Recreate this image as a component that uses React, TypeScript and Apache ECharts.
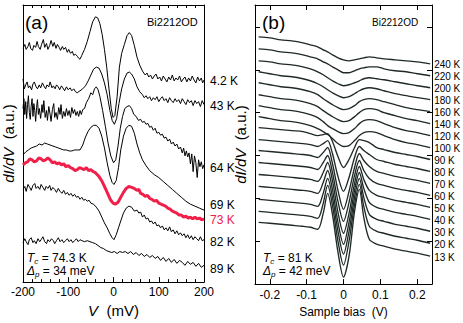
import React, { useEffect, useRef } from 'react';
import * as echarts from 'echarts';

const FONT = "'Liberation Sans', Arial, Helvetica, sans-serif";

// ---------- Panel (a): dI/dV (a.u.) vs V (mV), offset spectra ----------
const a4_2K: number[][] = [[-200,237],[-196,241],[-193,236],[-189,239],[-186,243],[-183,237],[-179,235],[-176,240],[-172,238],[-169,244],[-166,239],[-162,236],[-159,241],[-155,246],[-152,238],[-148,242],[-145,236],[-141,240],[-138,245],[-134,239],[-131,243],[-127,237],[-124,241],[-120,238],[-117,235],[-113,239],[-110,236],[-106,238],[-102,233],[-99,236],[-95,232],[-91,234],[-88,230],[-84,231],[-80,229],[-77,227],[-74,226],[-70,230],[-64,236],[-58,244],[-52,254],[-46,264],[-40,269],[-35,268],[-30,262],[-25,251],[-20,236],[-15,218],[-10,196],[-5,176],[-1,167],[3,169],[8,188],[13,218],[18,232],[24,241],[30,250],[35,253],[40,250],[46,240],[52,228],[58,220],[64,214],[70,210],[74,212],[78,208],[82,210],[86,206],[90,209],[94,211],[98,206],[102,208],[106,204],[110,209],[114,206],[118,203],[122,208],[126,205],[130,210],[134,204],[138,207],[142,205],[146,209],[150,203],[154,206],[158,208],[162,203],[166,207],[170,204],[174,209],[178,205],[182,202],[186,208],[190,204],[194,207],[197,202],[200,205]];
const a43K: number[][] = [[-200,206],[-197,196],[-194,200],[-191,203],[-188,197],[-185,199],[-181,195],[-178,201],[-175,203],[-171,198],[-168,196],[-164,200],[-161,197],[-157,202],[-154,199],[-150,196],[-147,200],[-143,198],[-140,203],[-136,197],[-133,199],[-129,196],[-126,200],[-122,198],[-119,195],[-115,199],[-112,197],[-108,194],[-104,198],[-100,195],[-96,197],[-92,194],[-88,196],[-84,193],[-80,192],[-74,194],[-68,196],[-62,199],[-56,204],[-50,210],[-44,216],[-38,218],[-32,217],[-26,211],[-20,202],[-14,190],[-8,174],[-3,164],[2,160],[7,166],[12,181],[18,196],[24,206],[30,212],[35,213],[40,211],[46,206],[52,198],[58,193],[64,190],[68,187],[72,189],[76,186],[80,188],[84,184],[88,187],[92,185],[96,188],[100,183],[104,186],[108,188],[112,184],[116,186],[120,182],[124,187],[128,184],[132,182],[136,186],[140,183],[144,185],[148,181],[152,186],[156,183],[160,180],[164,185],[168,182],[172,184],[176,179],[180,184],[184,181],[188,183],[192,178],[196,184],[200,180]];
const a64K: number[][] = [[-200,176],[-198,186],[-196,170],[-194,183],[-192,166],[-190,180],[-188,189],[-186,172],[-184,165],[-182,178],[-180,186],[-178,168],[-176,181],[-174,174],[-172,163],[-170,177],[-168,185],[-166,170],[-164,176],[-161,166],[-158,180],[-156,172],[-154,184],[-151,167],[-148,174],[-146,164],[-143,178],[-140,170],[-138,163],[-135,175],[-132,181],[-130,167],[-127,172],[-124,165],[-121,177],[-118,170],[-116,180],[-113,166],[-110,173],[-107,168],[-104,176],[-101,169],[-98,174],[-95,167],[-92,177],[-89,171],[-86,175],[-83,169],[-80,173],[-77,168],[-74,174],[-71,170],[-68,175],[-64,176],[-60,182],[-55,186],[-50,192],[-46,190],[-42,196],[-38,198],[-34,195],[-30,188],[-24,174],[-18,158],[-12,141],[-6,128],[0,121],[5,124],[10,138],[15,156],[20,168],[25,176],[30,178],[35,179],[40,176],[45,170],[50,168],[55,164],[60,165],[64,162],[68,163],[72,160],[76,161],[80,157],[84,158],[88,154],[92,156],[96,151],[100,152],[104,149],[108,150],[112,146],[116,147],[120,143],[124,145],[128,140],[132,142],[136,138],[140,140],[144,135],[148,137],[152,131],[155,136],[158,128],[161,133],[164,127],[167,131],[170,120],[173,130],[176,112],[179,128],[182,121],[185,106],[188,124],[191,117],[194,122],[197,115],[200,119]];
const a69K: number[][] = [[-200,129],[-194,132],[-188,134],[-182,136],[-176,137],[-170,138],[-164,140],[-158,139],[-152,141],[-146,140],[-140,139],[-134,138],[-128,137],[-122,136],[-116,135],[-110,134],[-104,134],[-98,133],[-92,133],[-86,134],[-80,134],[-74,134],[-68,139],[-62,147],[-56,153],[-50,157],[-44,159],[-38,159],[-32,156],[-26,148],[-20,136],[-14,121],[-8,108],[-3,101],[1,99],[6,103],[11,116],[16,134],[22,148],[28,156],[34,159],[40,158],[46,151],[52,140],[58,131],[64,124],[72,118],[80,113],[90,109],[100,106],[110,102],[120,98],[130,94],[140,90],[150,86],[160,82],[170,79],[180,77],[190,75],[200,73]];
const a73K: number[][] = [[-200,119],[-195,121],[-190,122],[-185,125],[-180,124],[-175,122],[-170,123],[-165,126],[-160,125],[-155,123],[-150,124],[-145,126],[-140,124],[-135,121],[-130,122],[-125,120],[-120,121],[-115,119],[-110,120],[-105,117],[-100,118],[-95,116],[-90,115],[-85,113],[-80,114],[-75,116],[-70,115],[-65,114],[-60,116],[-55,113],[-50,114],[-45,112],[-40,111],[-32,107],[-25,102],[-18,95],[-12,89],[-6,83],[-1,80],[4,79],[10,81],[16,86],[22,91],[28,95],[34,97],[40,96],[46,95],[52,93],[56,94],[60,90],[65,89],[70,87],[75,88],[80,85],[85,84],[90,82],[95,83],[100,80],[105,79],[110,78],[115,77],[120,75],[125,74],[130,72],[135,71],[140,70],[145,68],[150,68],[155,66],[160,67],[165,65],[170,66],[175,64],[180,66],[185,64],[190,65],[195,63],[200,64]];
const a82K: number[][] = [[-200,94],[-196,97],[-193,92],[-189,99],[-185,96],[-182,93],[-178,98],[-174,100],[-171,95],[-167,97],[-163,94],[-160,99],[-156,96],[-152,93],[-149,97],[-145,95],[-141,98],[-138,93],[-134,96],[-130,94],[-126,91],[-122,95],[-118,92],[-114,90],[-110,93],[-106,89],[-102,91],[-98,88],[-94,90],[-90,87],[-86,89],[-82,86],[-78,87],[-74,84],[-70,86],[-66,83],[-62,84],[-58,82],[-54,83],[-50,80],[-44,79],[-38,76],[-32,72],[-26,66],[-20,60],[-14,55],[-8,49],[-3,45],[1,43],[6,48],[11,55],[16,62],[22,70],[28,75],[34,77],[40,76],[46,72],[52,73],[56,70],[60,71],[64,66],[68,68],[72,64],[76,65],[80,61],[84,62],[88,59],[92,61],[96,57],[100,58],[104,55],[108,57],[112,53],[116,55],[120,52],[124,56],[128,51],[132,53],[136,49],[140,52],[144,48],[148,50],[152,47],[156,49],[160,45],[164,48],[168,44],[172,47],[176,43],[180,46],[184,44],[188,42],[192,46],[196,42],[200,43]];
const a89K: number[][] = [[-200,40],[-196,44],[-193,41],[-189,38],[-186,43],[-182,45],[-178,40],[-175,42],[-171,39],[-167,44],[-163,41],[-160,43],[-156,46],[-152,41],[-148,39],[-145,43],[-141,41],[-137,44],[-133,42],[-130,39],[-126,42],[-122,45],[-118,41],[-114,43],[-110,40],[-106,42],[-102,44],[-98,41],[-94,43],[-90,40],[-86,42],[-82,44],[-78,41],[-74,43],[-70,42],[-64,41],[-58,42],[-52,41],[-46,40],[-40,39],[-34,37],[-28,35],[-22,34],[-16,32],[-10,31],[-4,30],[2,31],[8,29],[14,31],[20,30],[26,31],[32,29],[38,31],[44,28],[50,30],[56,27],[62,29],[68,26],[74,28],[80,25],[86,27],[92,24],[98,26],[104,22],[110,25],[116,21],[122,24],[128,20],[134,23],[140,19],[146,22],[152,20],[158,17],[164,21],[170,18],[176,20],[182,16],[188,19],[194,15],[200,17]];

const seriesA = [
  { name: '4.2 K', data: a4_2K, color: '#000', width: 1, dy: 1 },
  { name: '43 K', data: a43K, color: '#000', width: 1, dy: 1 },
  { name: '64 K', data: a64K, color: '#000', width: 1, dy: 3 },
  { name: '69 K', data: a69K, color: '#000', width: 1, dy: -5 },
  { name: '73 K', data: a73K, color: '#f0204a', width: 3, dy: 1 },
  { name: '82 K', data: a82K, color: '#000', width: 1, dy: 2 },
  { name: '89 K', data: a89K, color: '#000', width: 1, dy: 4 },
];

// ---------- Panel (b): dI/dV (a.u.) vs sample bias (V) ----------
const biasGrid = [-0.23,-0.2,-0.17,-0.14,-0.11,-0.09,-0.07,-0.055,-0.043,-0.03,-0.015,0,0.015,0.03,0.043,0.055,0.07,0.09,0.11,0.14,0.17,0.2,0.235];
const b240K = [248,247,245,244,242,240,238,235,233,230,227,225,224,225,226,227,228,227,226,225,224,223,221];
const b220K = [236,235,233,232,230,228,226,223,221,218,215,212,212,214,216,217,218,218,216,214,213,211,209];
const b200K = [224,223,221,220,218,216,213,210,207,204,201,199,200,202,204,206,207,206,205,203,201,199,197];
const b180K = [213,211,209,208,206,204,201,198,195,192,189,187,188,191,194,196,197,196,194,191,189,187,185];
const b160K = [202,200,198,197,195,193,190,186,183,180,177,175,176,179,183,185,186,185,183,180,177,175,173];
const b140K = [190,188,186,185,183,181,178,174,171,168,165,163,164,168,172,175,176,175,172,169,166,164,161];
const b120K = [179,177,175,174,172,170,167,163,159,156,153,151,152,156,161,164,165,164,161,157,154,152,149];
const b100K = [168,166,164,163,161,159,156,153,150,146,141,138,139,144,149,152,153,152,149,145,142,140,137];
const b90K = [157,156,155,154,153,151,149,150,151,143,128,117,125,137,145,144,142,137,135,132,130,128,125];
const b80K = [145,144,143,142,141,140,138,141,144,131,108,93,107,127,138,134,130,125,123,120,118,116,113];
const b70K = [134,133,132,131,130,129,127,132,137,121,94,75,93,117,131,124,118,113,111,108,106,104,101];
const b60K = [122,121,120,119,118,117,115,122,129,112,83,63,82,109,124,114,106,101,99,96,94,92,89];
const b50K = [110,109,108,107,106,105,103,112,122,104,72,51,71,101,118,105,94,89,87,84,82,80,77];
const b40K = [98,97,96,95,94,93,91,102,114,95,62,40,62,94,112,96,82,77,75,72,70,68,65];
const b30K = [85,84,83,82,81,80,78,91,106,87,53,30,53,87,106,87,70,65,63,60,58,56,53];
const b20K = [73,72,71,70,69,68,66,81,99,79,43,19,43,80,100,78,58,53,51,48,46,44,41];
const b13K = [62,61,60,59,58,57,55,71,91,70,32,7,28,73,95,67,45,40,38,35,33,31,28];

const tempsB = ['240 K','220 K','200 K','180 K','160 K','140 K','120 K','100 K','90 K','80 K','70 K','60 K','50 K','40 K','30 K','20 K','13 K'];
const curvesB = [b240K,b220K,b200K,b180K,b160K,b140K,b120K,b100K,b90K,b80K,b70K,b60K,b50K,b40K,b30K,b20K,b13K];

const ticksA = [-200, -100, 0, 100, 200];

function buildOption() {
  const black = '#000';
  const axisLine = { show: true, onZero: false, lineStyle: { color: black, width: 1 } };
  const tickIn = { show: true, inside: true, length: 5, lineStyle: { color: black, width: 1 } };
  const minorIn = { show: true, splitNumber: 5, length: 3, lineStyle: { color: black, width: 1 } };
  const txt = { color: black, fontFamily: FONT };
  const yName = {
    name: '{i|dI/dV}  (a.u.)',
    nameLocation: 'middle',
    nameRotate: 90,
    nameGap: 7,
    nameTextStyle: { ...txt, fontSize: 15, rich: { i: { fontStyle: 'italic', fontSize: 15, fontFamily: FONT, color: black } } },
  };

  const series: any[] = [];
  seriesA.forEach((s) => {
    series.push({
      type: 'line', xAxisIndex: 0, yAxisIndex: 0, data: s.data, showSymbol: false, silent: true,
      lineStyle: { color: s.color, width: s.width }, itemStyle: { color: s.color },
      endLabel: { show: true, formatter: s.name, distance: 6, offset: [0, s.dy], color: s.color, fontSize: 12, fontFamily: FONT },
    });
  });
  curvesB.forEach((c, k) => {
    series.push({
      type: 'line', xAxisIndex: 2, yAxisIndex: 2, data: c.map((v, i) => [biasGrid[i], v]), showSymbol: false, silent: true,
      smooth: 0.3,
      lineStyle: { color: '#1f2a25', width: 1.35 }, itemStyle: { color: '#1f2a25' },
      endLabel: { show: true, formatter: tempsB[k], distance: 4, offset: [0, 1], color: '#000', fontSize: 10, fontFamily: FONT },
    });
  });

  const sub = (t: string, s: string, rest: string, x: number, y: number) => ({
    type: 'text', x, y,
    style: {
      text: `{i|${t}}{s|${s}}{n|${rest}}`,
      verticalAlign: 'middle', align: 'left',
      rich: {
        i: { fontStyle: 'italic', fontSize: 12, fontFamily: FONT, fill: black, lineHeight: 15, verticalAlign: 'middle' },
        s: { fontStyle: 'italic', fontSize: 8, fontFamily: FONT, fill: black, verticalAlign: 'bottom' },
        n: { fontSize: 12, fontFamily: FONT, fill: black, lineHeight: 15, verticalAlign: 'middle' },
      },
    },
  });

  return {
    animation: false,
    backgroundColor: '#fff',
    grid: [
      { left: 23, top: 5, width: 181, height: 281 },
      { left: 255, top: 5, width: 177, height: 280 },
    ],
    xAxis: [
      {
        gridIndex: 0, type: 'value', min: -200, max: 200, interval: 100, position: 'bottom',
        axisLine, axisTick: tickIn, minorTick: minorIn, splitLine: { show: false },
        axisLabel: { ...txt, fontSize: 12, margin: 4, formatter: (v: number) => (ticksA.includes(v) ? String(v) : '') },
        name: '{i|V}  (mV)', nameLocation: 'middle', nameGap: 18,
        nameTextStyle: { ...txt, fontSize: 15, rich: { i: { fontStyle: 'italic', fontSize: 15, fontFamily: FONT, color: black } } },
      },
      {
        gridIndex: 0, type: 'value', min: -200, max: 200, interval: 100, position: 'top',
        axisLine, axisTick: tickIn, minorTick: minorIn, splitLine: { show: false }, axisLabel: { show: false },
      },
      {
        gridIndex: 1, type: 'value', min: -0.24, max: 0.24, minInterval: 0.1, maxInterval: 0.1, position: 'bottom',
        axisLine, axisTick: tickIn, splitLine: { show: false },
        axisLabel: {
          ...txt, fontSize: 12, margin: 5, showMinLabel: false, showMaxLabel: false,
          formatter: (v: number) => (Math.abs(v) < 1e-9 ? '0' : String(Math.round(v * 10) / 10)),
        },
        name: 'Sample bias  (V)', nameLocation: 'middle', nameGap: 20,
        nameTextStyle: { ...txt, fontSize: 12 },
      },
      {
        gridIndex: 1, type: 'value', min: -0.24, max: 0.24, minInterval: 0.1, maxInterval: 0.1, position: 'top',
        axisLine, axisTick: tickIn, splitLine: { show: false }, axisLabel: { show: false },
      },
    ],
    yAxis: [
      { gridIndex: 0, type: 'value', min: 0, max: 281, position: 'left', axisLine, axisTick: { show: false }, axisLabel: { show: false }, splitLine: { show: false }, ...yName },
      { gridIndex: 0, type: 'value', min: 0, max: 281, position: 'right', axisLine, axisTick: { show: false }, axisLabel: { show: false }, splitLine: { show: false } },
      { gridIndex: 1, type: 'value', min: 0, max: 280, interval: 43, position: 'left', axisLine, axisTick: tickIn, axisLabel: { show: false }, splitLine: { show: false }, ...yName },
      { gridIndex: 1, type: 'value', min: 0, max: 280, interval: 43, position: 'right', axisLine, axisTick: tickIn, axisLabel: { show: false }, splitLine: { show: false } },
    ],
    graphic: [
      { type: 'text', x: 25, y: 22, style: { text: '(a)', fontSize: 19, fontFamily: FONT, fill: black, verticalAlign: 'middle', align: 'left' } },
      { type: 'text', x: 147, y: 22, style: { text: 'Bi2212OD', fontSize: 11, fontFamily: FONT, fill: black, verticalAlign: 'middle', align: 'left' } },
      { type: 'text', x: 262, y: 22, style: { text: '(b)', fontSize: 19, fontFamily: FONT, fill: black, verticalAlign: 'middle', align: 'left' } },
      { type: 'text', x: 372, y: 22, style: { text: 'Bi2212OD', fontSize: 10, fontFamily: FONT, fill: black, verticalAlign: 'middle', align: 'left' } },
      sub('T', 'c', ' = 74.3 K', 27, 258),
      sub('Δ', 'p', ' = 34 meV', 27, 271),
      sub('T', 'c', ' = 81 K', 263, 258),
      sub('Δ', 'p', ' = 42 meV', 263, 271),
    ],
    series,
  };
}

export default function App() {
  const ref = useRef<HTMLDivElement>(null);
  useEffect(() => {
    if (!ref.current) return;
    const chart = echarts.init(ref.current, undefined, { renderer: 'svg' });
    chart.setOption(buildOption() as any);
    return () => chart.dispose();
  }, []);
  return (
    <div
      ref={ref}
      style={{ position: 'fixed', left: 0, top: 0, width: 463, height: 323, background: '#fff' }}
    />
  );
}
